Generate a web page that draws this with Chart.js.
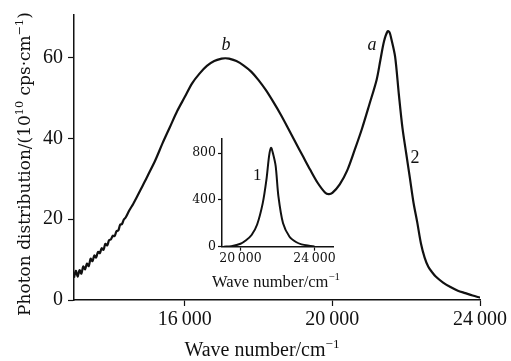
<!DOCTYPE html>
<html>
<head>
<meta charset="utf-8">
<script src="https://cdn.jsdelivr.net/npm/chart.js@4.4.1/dist/chart.umd.min.js"></script>
<style>
html, body { margin: 0; padding: 0; background: #fff; }
#wrap { position: relative; width: 511px; height: 361px; overflow: hidden; }
#main { position: absolute; left: 0; top: 0; }
#inset { position: absolute; left: 170px; top: 128px; }
</style>
</head>
<body>
<div id="wrap">
	<canvas id="main" width="511" height="361"></canvas>
	<canvas id="inset" width="180" height="170"></canvas>
</div>
<script>
"use strict";

// main spectrum (curve 2)
var waveNumbers = [13000, 13050, 13100, 13150, 13200, 13250, 13300, 13350, 13400, 13450,
	13500, 13550, 13600, 13650, 13700, 13750, 13800, 13850, 13900, 13950,
	14000, 14050, 14100, 14150, 14200, 14250, 14300, 14350, 14400, 14500,
	14600, 14700, 14800, 14900, 15000, 15200, 15400, 15600, 15800, 16000,
	16200, 16400, 16600, 16800, 17000, 17100, 17200, 17400, 17600, 17800,
	18000, 18200, 18400, 18600, 18800, 19000, 19200, 19400, 19600, 19800,
	19900, 20000, 20200, 20400, 20600, 20800, 21000, 21200, 21300, 21400,
	21500, 21550, 21600, 21700, 21800, 21900, 22000, 22100, 22200, 22300,
	22400, 22500, 22600, 22700, 22800, 23000, 23200, 23400, 23600, 23800, 24000];
var photonDist = [5.5, 7.2, 5.8, 7.4, 6.5, 8.3, 7.6, 9.0, 8.4, 10.2,
	9.6, 11.0, 10.5, 11.9, 11.6, 12.8, 12.4, 13.9, 13.5, 14.8,
	15.0, 15.9, 15.8, 17.0, 17.2, 18.6, 18.8, 19.9, 20.4, 22.2,
	23.7, 25.4, 27.2, 29.0, 30.8, 34.5, 38.8, 42.8, 46.8, 50.2,
	53.6, 56.0, 57.9, 59.1, 59.7, 59.8, 59.7, 59.1, 58.0, 56.5,
	54.4, 51.9, 49.0, 45.9, 42.5, 39.0, 35.6, 32.2, 29.0, 26.6,
	26.2, 26.5, 28.6, 32.0, 37.0, 42.3, 48.3, 54.5, 59.3, 64.0,
	66.5, 66.2, 64.5, 60.2, 51.0, 42.5, 36.3, 30.2, 24.0, 19.2,
	14.0, 10.5, 8.2, 6.9, 5.8, 4.3, 3.2, 2.3, 1.7, 1.1, 0.6];

// inset spectrum (curve 1)
var insetWaveNumbers = [19100, 19500, 20000, 20300, 20600, 20900, 21200, 21400, 21550, 21650,
	21750, 21900, 22050, 22300, 22650, 23000, 23300, 23700, 24000];
var insetCounts = [0, 5, 25, 55, 100, 190, 370, 570, 780, 845,
	800, 690, 430, 200, 85, 40, 20, 8, 2];

// tick labels
var mainXTicks = [16000, 20000, 24000];
var mainYTicks = [0, 20, 40, 60];
var insetXTicks = [20000, 24000];
var insetYTicks = [0, 400, 800];

// curve annotations (label, wave number, value, italic)
var mainNotes = [["a", 21074, 62.9, true], ["b", 17118, 62.9, true], ["2", 22239, 35, false]];
var insetNotes = [["1", 20903, 605, false]];


var INK = "#111";

// thousands with a thin space: 16 000
function fmtTick(v) {
	return String(v).replace(/\B(?=(\d{3})+(?!\d))/g, "\u2009");
}

function toPoints(xs, ys) {
	return xs.map(function(x, i) { return {x: x, y: ys[i]}; });
}

// draw text with superscript parts
function drawRich(ctx, parts, x, y, size, family, center) {
	var total = 0;
	parts.forEach(function(p) {
		ctx.font = (p.sup ? size * 0.66 : size) + "px '" + family + "'";
		p.w = ctx.measureText(p.t).width;
		total += p.w;
	});
	var cx = center ? x - total / 2 : x;
	ctx.textAlign = "left";
	ctx.textBaseline = "alphabetic";
	parts.forEach(function(p) {
		ctx.font = (p.sup ? size * 0.66 : size) + "px '" + family + "'";
		ctx.fillText(p.t, cx, p.sup ? y - size * 0.42 : y);
		cx += p.w;
	});
}

var xTitleParts = [{t: "Wave number/cm"}, {t: "\u22121", sup: true}];
var yTitleParts = [{t: "Photon distribution/(10"}, {t: "10", sup: true}, {t: " cps\u00b7cm"}, {t: "\u22121", sup: true}, {t: ")"}];

// plugin drawing axis titles and curve labels
var decorPlugin = {
	id: "decor",
	afterDraw: function(chart, args, opts) {
		var ctx = chart.ctx;
		ctx.save();
		ctx.fillStyle = INK;
		// x title
		drawRich(ctx, xTitleParts, opts.xTitle.x, opts.xTitle.y, opts.xTitle.size, "Liberation Serif", true);
		// y title
		if (opts.yTitle) {
			ctx.save();
			ctx.translate(opts.yTitle.x, opts.yTitle.y);
			ctx.rotate(-Math.PI / 2);
			drawRich(ctx, yTitleParts, 0, 0, opts.yTitle.size, "DejaVu Serif", true);
			ctx.restore();
		}
		// curve labels
		ctx.textAlign = "center";
		ctx.textBaseline = "middle";
		opts.notes.forEach(function(n) {
			ctx.font = (n[3] ? "italic " : "") + opts.noteSize + "px 'Liberation Serif'";
			ctx.fillText(n[0], chart.scales.x.getPixelForValue(n[1]), chart.scales.y.getPixelForValue(n[2]));
		});
		ctx.restore();
	}
};

function axisOptions(min, max, tickList, font, tickLen, pad, fit) {
	return {
		type: "linear",
		min: min,
		max: max,
		afterBuildTicks: function(scale) {
			scale.ticks = tickList.map(function(v) { return {value: v}; });
		},
		afterFit: fit,
		grid: {display: true, drawOnChartArea: false, drawTicks: true, tickLength: tickLen, tickColor: INK, tickWidth: 1.2},
		border: {display: true, color: INK, width: 1.5},
		ticks: {
			color: INK,
			padding: pad,
			maxRotation: 0,
			autoSkip: false,
			font: font,
			callback: function(v) { return fmtTick(v); }
		}
	};
}

var mainChart = new Chart(document.getElementById("main").getContext("2d"), {
	type: "line",
	data: {
		datasets: [{
			data: toPoints(waveNumbers, photonDist),
			borderColor: INK,
			borderWidth: 2.2,
			pointRadius: 0,
			tension: 0.3,
			fill: false
		}]
	},
	options: {
		responsive: false,
		animation: false,
		events: [],
		layout: {padding: {left: 0, right: 31, top: 12, bottom: 0}},
		plugins: {
			legend: {display: false},
			tooltip: {enabled: false},
			decor: {
				xTitle: {x: 262, y: 356, size: 20},
				yTitle: {x: 30, y: 164, size: 17},
				notes: mainNotes,
				noteSize: 18
			}
		},
		scales: {
			x: axisOptions(13000, 24000, mainXTicks, {family: "Liberation Serif", size: 20}, 6, 2, function(s) { s.height = 61; }),
			y: axisOptions(0, 70.5, mainYTicks, {family: "Liberation Serif", size: 20, lineHeight: 1}, 6, 5, function(s) { s.width = 74; })
		}
	},
	plugins: [decorPlugin]
});

var insetChart = new Chart(document.getElementById("inset").getContext("2d"), {
	type: "line",
	data: {
		datasets: [{
			data: toPoints(insetWaveNumbers, insetCounts),
			borderColor: INK,
			borderWidth: 2,
			pointRadius: 0,
			tension: 0.3,
			fill: false
		}]
	},
	options: {
		responsive: false,
		animation: false,
		events: [],
		layout: {padding: {left: 0, right: 17, top: 11, bottom: 0}},
		plugins: {
			legend: {display: false},
			tooltip: {enabled: false},
			decor: {
				xTitle: {x: 106, y: 158.7, size: 16.5},
				notes: insetNotes,
				noteSize: 17
			}
		},
		scales: {
			x: axisOptions(19000, 25000, insetXTicks, {family: "DejaVu Serif", size: 12.5}, 4, 1, function(s) { s.height = 51.3; }),
			y: axisOptions(0, 920, insetYTicks, {family: "DejaVu Serif", size: 12.5, lineHeight: 1}, 4, 2, function(s) { s.width = 52; })
		}
	},
	plugins: [decorPlugin]
});
</script>
</body>
</html>
